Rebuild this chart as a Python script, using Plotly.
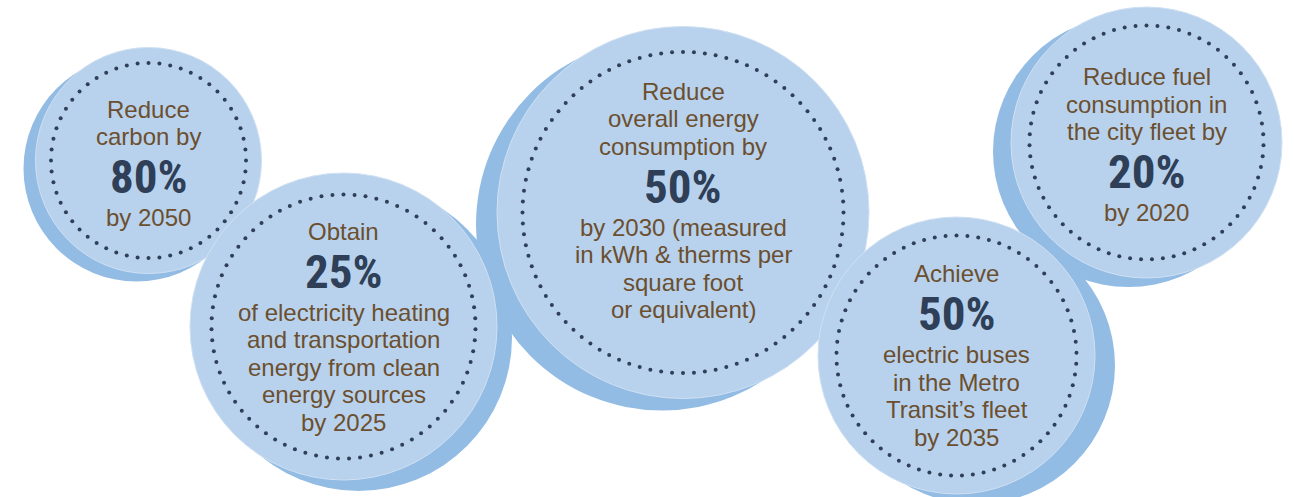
import numpy as np
import plotly.graph_objects as go

# ---------------- data (texts of the five goals) ----------------
lead_lines = [
    ["Reduce", "carbon by"],
    ["Obtain"],
    ["Reduce", "overall energy", "consumption by"],
    ["Achieve"],
    ["Reduce fuel", "consumption in", "the city fleet by"],
]
percent_labels = ["80%", "25%", "50%", "50%", "20%"]
tail_lines = [
    ["by 2050"],
    ["of electricity heating", "and transportation", "energy from clean",
     "energy sources", "by 2025"],
    ["by 2030 (measured", "in kWh & therms per", "square foot", "or equivalent)"],
    ["electric buses", "in the Metro", "Transit\u2019s fleet", "by 2035"],
    ["by 2020"],
]

# ---------------- layout geometry (pixels) ----------------
W, H = 1294, 497
centers_x = [148.5, 343.5, 683.0, 956.5, 1146.5]
centers_y = [160.5, 326.5, 212.5, 355.5, 142.5]
radii = [113.0, 153.5, 186.0, 138.5, 135.5]
shadow_dx = [-12, 15, -21, 20, -18]
shadow_dy = [8, 11, 12, 10, 9]
ring_r = [97.5, 132.0, 160.5, 120.0, 117.0]
block_shift = [3, 0, -12, 0, 2]
LINE_SP = 27.5
GAP_ABOVE = 40.0
GAP_BELOW = 41.0
DOT_SP = 11.0

FRONT = "#b8d2ed"
SHADOW = "#93bce4"
EDGE = "#cfe0f3"
NAVY = "#2e3f57"
BROWN = "#6b4f2f"
BODY_FONT = "Liberation Sans, Arial, sans-serif"
PCT_FONT = "Roboto Condensed, Open Sans Condensed, DejaVu Sans Condensed, sans-serif"

fig = go.Figure()
shapes = []
for cx, cy, r, dx, dy in zip(centers_x, centers_y, radii, shadow_dx, shadow_dy):
    shapes.append(dict(type="circle", xref="x", yref="y", layer="below",
                       x0=cx + dx - r, x1=cx + dx + r, y0=cy + dy - r, y1=cy + dy + r,
                       fillcolor=SHADOW, line=dict(width=0)))
for cx, cy, r in zip(centers_x, centers_y, radii):
    shapes.append(dict(type="circle", xref="x", yref="y", layer="below",
                       x0=cx - r, x1=cx + r, y0=cy - r, y1=cy + r,
                       fillcolor=FRONT, line=dict(width=1, color=EDGE)))

# dotted rings
dx_all, dy_all = [], []
for cx, cy, rr in zip(centers_x, centers_y, ring_r):
    n = int(round(2 * np.pi * rr / DOT_SP))
    t = np.linspace(0, 2 * np.pi, n, endpoint=False) - np.pi / 2
    dx_all.extend(cx + rr * np.cos(t))
    dy_all.extend(cy + rr * np.sin(t))
fig.add_trace(go.Scatter(x=dx_all, y=dy_all, mode="markers",
                         marker=dict(size=4, color=NAVY, line=dict(width=0)),
                         hoverinfo="skip", showlegend=False))

annotations = []
for i in range(len(percent_labels)):
    na, nb = len(lead_lines[i]), len(tail_lines[i])
    top_off = -GAP_ABOVE - (na - 1) * LINE_SP
    bot_off = GAP_BELOW + (nb - 1) * LINE_SP
    P = centers_y[i] + block_shift[i] - (top_off + bot_off) / 2
    cx = centers_x[i]
    for k, line in enumerate(lead_lines[i]):
        y = P - GAP_ABOVE - (na - 1 - k) * LINE_SP
        annotations.append(dict(x=cx, y=y, xref="x", yref="y", text=line,
                                showarrow=False, xanchor="center", yanchor="middle",
                                font=dict(family=BODY_FONT, size=24, color=BROWN)))
    annotations.append(dict(x=cx, y=P, xref="x", yref="y", text=percent_labels[i],
                            showarrow=False, xanchor="center", yanchor="middle",
                            font=dict(family=PCT_FONT, size=47, color=NAVY, weight="bold")))
    for k, line in enumerate(tail_lines[i]):
        y = P + GAP_BELOW + k * LINE_SP
        annotations.append(dict(x=cx, y=y, xref="x", yref="y", text=line,
                                showarrow=False, xanchor="center", yanchor="middle",
                                font=dict(family=BODY_FONT, size=24, color=BROWN)))

fig.update_layout(
    width=W, height=H, margin=dict(l=0, r=0, t=0, b=0),
    paper_bgcolor="white", plot_bgcolor="white",
    xaxis=dict(range=[0, W], visible=False, fixedrange=True),
    yaxis=dict(range=[H, 0], visible=False, fixedrange=True),
    shapes=shapes, annotations=annotations, showlegend=False,
)
fig.write_html("out.html", config={"displayModeBar": False},
               post_script="document.body.style.margin='0';"
                           "document.body.style.overflow='hidden';")
